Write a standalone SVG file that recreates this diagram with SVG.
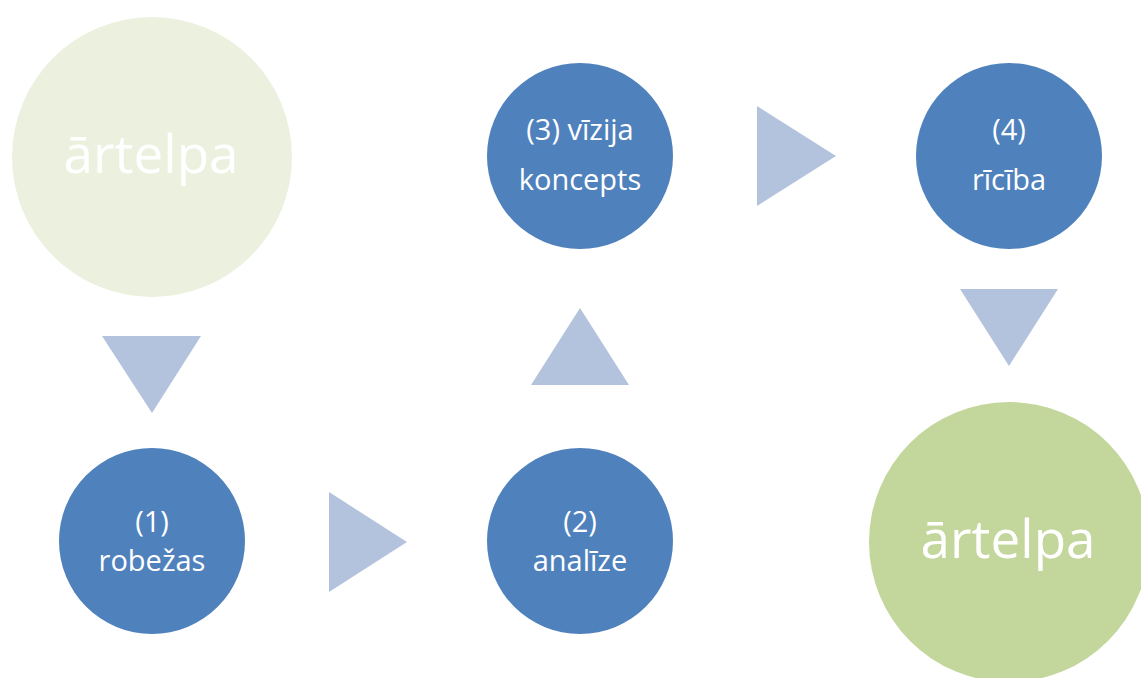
<svg xmlns="http://www.w3.org/2000/svg" width="1141" height="678" viewBox="0 0 1141 678">
<style>
.step{fill:#4F81BD}
.arrow{fill:#B3C3DD}
.t{font-family:"Open Sans","Noto Sans",sans-serif;fill:#FFFFFF;text-anchor:middle}
.s{font-size:29px}
.b{font-size:53px}
</style>
<rect width="1141" height="678" fill="#FFFFFF"/>
<g id="connectors">
<polygon class="arrow" points="102,336 201,336 152,413"/>
<polygon class="arrow" points="329,492 407,542 329,592"/>
<polygon class="arrow" points="531,385 629,385 580,308"/>
<polygon class="arrow" points="757,106 836,156 757,206"/>
<polygon class="arrow" points="960,289 1058,289 1009,366"/>
</g>
<g id="start">
<circle cx="152" cy="157" r="140" fill="#EBF1DE"/>
<text class="t b" x="151" y="173">ārtelpa</text>
</g>
<g id="step1">
<circle class="step" cx="152" cy="541" r="93"/>
<text class="t s" x="152" y="532">(1)</text>
<text class="t s" x="152" y="571">robežas</text>
</g>
<g id="step2">
<circle class="step" cx="580" cy="541" r="93"/>
<text class="t s" x="580" y="532">(2)</text>
<text class="t s" x="580" y="571">analīze</text>
</g>
<g id="step3">
<circle class="step" cx="580" cy="156" r="93"/>
<text class="t s" x="580" y="140">(3) vīzija</text>
<text class="t s" x="580" y="190">koncepts</text>
</g>
<g id="step4">
<circle class="step" cx="1009" cy="156" r="93"/>
<text class="t s" x="1009" y="140">(4)</text>
<text class="t s" x="1009" y="190">rīcība</text>
</g>
<g id="end">
<circle cx="1009" cy="542" r="140" fill="#C3D69B"/>
<text class="t b" x="1008" y="558">ārtelpa</text>
</g>
</svg>
